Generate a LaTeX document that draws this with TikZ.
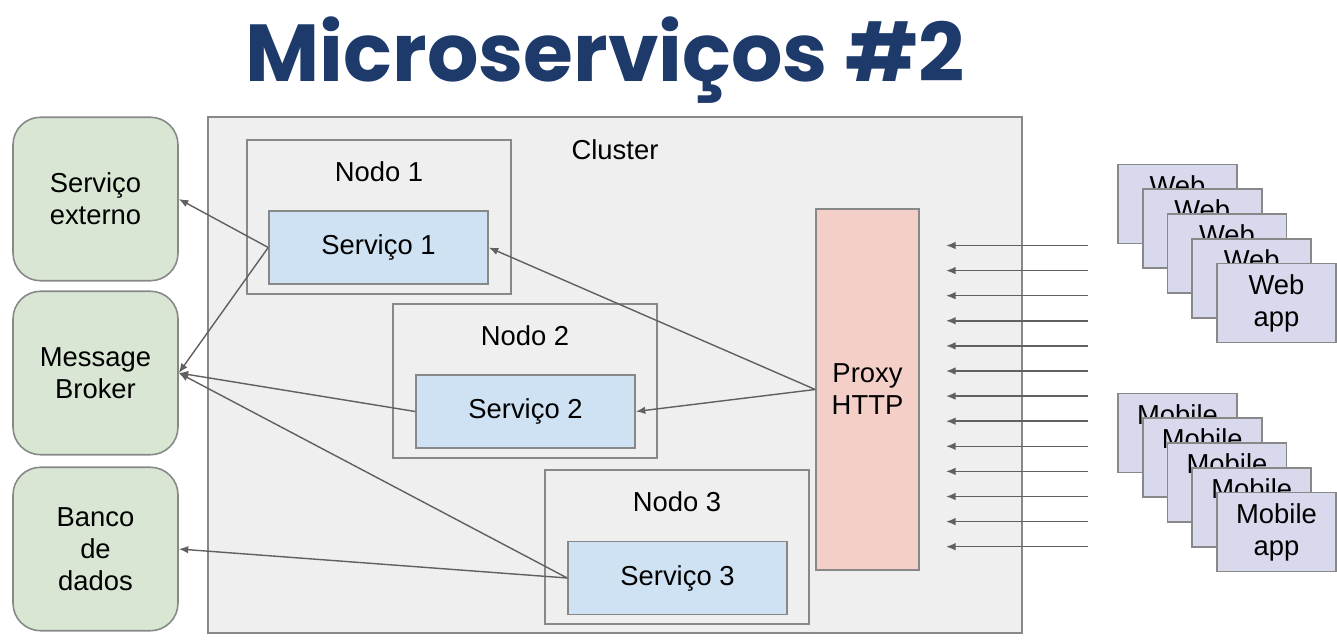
\documentclass[tikz,border=0pt]{standalone}
\usepackage{fontspec}
\setmainfont{Liberation Sans}
\newfontfamily\titlefont{Poppins}
\usetikzlibrary{arrows.meta}

\definecolor{titleblue}{HTML}{1D3A6A}
\definecolor{clustergray}{HTML}{EFEFEF}
\definecolor{edgegray}{HTML}{888888}
\definecolor{linegray}{HTML}{606060}
\definecolor{svcblue}{HTML}{CFE2F3}
\definecolor{extgreen}{HTML}{D9E6D3}
\definecolor{proxyred}{HTML}{F4CFC8}
\definecolor{applilac}{HTML}{D9D9EE}

\begin{document}
\begin{tikzpicture}[x=0.02cm, y=-0.02cm, font=\fontsize{15.6}{18.2}\selectfont]
  \tikzset{cluster/.style={rectangle, draw=edgegray, fill=clustergray, line width=0.9pt,
      minimum width=16.28cm, minimum height=10.32cm}}
  \tikzset{nodo/.style={rectangle, draw=edgegray, line width=0.8pt,
      minimum width=5.28cm, minimum height=3.08cm}}
  \tikzset{servico/.style={rectangle, draw=edgegray, fill=svcblue, line width=0.9pt,
      minimum width=4.38cm, minimum height=1.46cm}}
  \tikzset{externo/.style={rectangle, rounded corners=0.55cm, draw=edgegray, fill=extgreen,
      line width=0.9pt, align=center, minimum width=3.3cm, minimum height=3.27cm}}
  \tikzset{proxy/.style={rectangle, draw=edgegray, fill=proxyred, line width=0.9pt,
      align=center, minimum width=2.06cm, minimum height=7.22cm}}
  \tikzset{app/.style={rectangle, draw=edgegray, fill=applilac, line width=0.9pt,
      align=center, minimum width=2.38cm, minimum height=1.58cm}}
  \tikzset{link/.style={draw=linegray, line width=0.8pt, -{Latex[length=1.9mm, width=1.5mm]}}}

  \useasboundingbox (0,0) rectangle (1337,641);

  \node[text=titleblue, font=\titlefont\bfseries\fontsize{46}{50}\selectfont]
    (title) at (605,60) {Microserviços \#2};

  % cluster
  \node[cluster] (cluster) at (615,375) {};
  \node (clusterlabel) at (615,150) {Cluster};

  \node[nodo] (nodo1) at (379,217) {};
  \node (nodo1label) at (379,172) {Nodo 1};
  \node[servico] (s1) at (378.5,247.5) {Serviço 1};

  \node[nodo] (nodo2) at (525,381) {};
  \node (nodo2label) at (525,336) {Nodo 2};
  \node[servico] (s2) at (525.5,411.5) {Serviço 2};

  \node[nodo] (nodo3) at (677,547) {};
  \node (nodo3label) at (677,502) {Nodo 3};
  \node[servico] (s3) at (677.5,578) {Serviço 3};

  \node[proxy] (proxy) at (867.5,389.5) {Proxy\\HTTP};

  % external
  \node[externo] (ext) at (95.5,199) {Serviço\\externo};
  \node[externo] (broker) at (95.5,373) {Message\\Broker};
  \node[externo] (db) at (95.5,549) {Banco\\de\\dados};

  % clients
  \foreach \i in {0,...,4} {
    \node[app] (web\i) at (1177.5+24.75*\i, 204+24.75*\i) {Web\\app};
  }
  \foreach \i in {0,...,4} {
    \node[app] (mob\i) at (1177.5+24.75*\i, 433+24.75*\i) {Mobile\\app};
  }

  % requests
  \foreach \i in {0,...,12} {
    \coordinate (req\i) at (1088, 245.5+25.1*\i);
    \coordinate (hit\i) at (946, 245.5+25.1*\i);
    \draw[link] (req\i) -- (hit\i);
  }

  \draw[link] (proxy.west) -- (s1.east);
  \draw[link] (proxy.west) -- (s2.east);
  \draw[link] (s1.west) -- (ext.east);
  \draw[link] (s1.west) -- (broker.east);
  \draw[link] (s2.west) -- (broker.east);
  \draw[link] (s3.west) -- (broker.east);
  \draw[link] (s3.west) -- (db.east);
\end{tikzpicture}
\end{document}
